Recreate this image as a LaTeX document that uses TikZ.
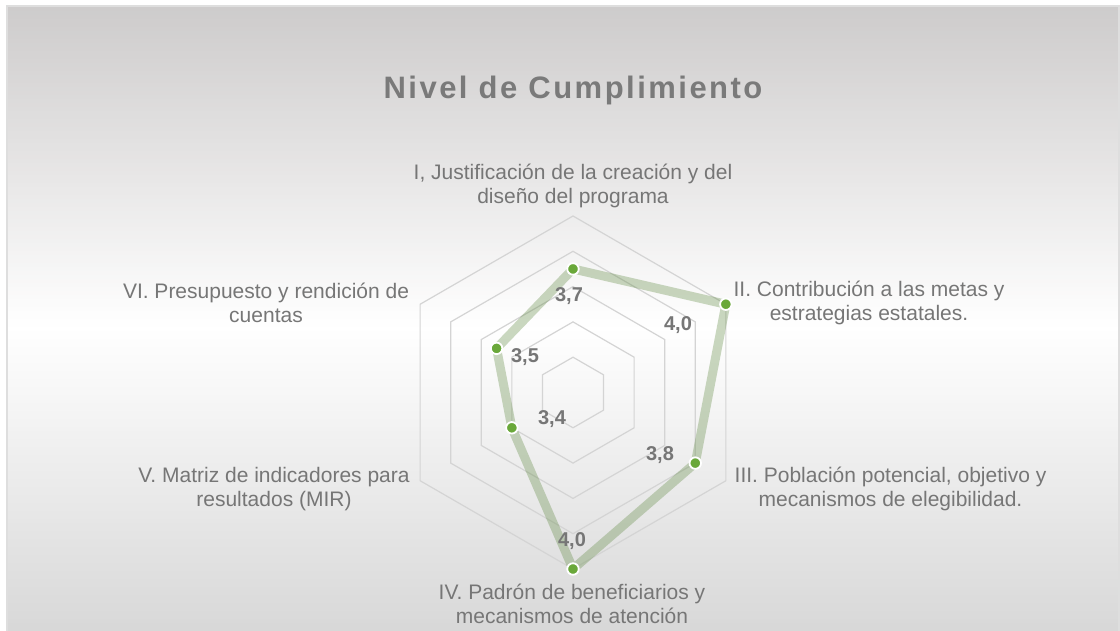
\documentclass[tikz,border=0pt]{standalone}
\usepackage{fontspec}
\setmainfont{Liberation Sans}
\newfontfamily\titlefont[LetterSpace=8]{Liberation Sans}
\usetikzlibrary{calc}
\definecolor{bgtop}{RGB}{205,203,203}
\definecolor{bgbot}{RGB}{216,216,216}
\definecolor{frame}{RGB}{222,222,222}
\definecolor{gridc}{RGB}{212,212,212}
\definecolor{txt}{RGB}{118,118,118}
\definecolor{ttl}{RGB}{122,122,122}
\definecolor{lab}{RGB}{118,118,118}
\definecolor{serie}{RGB}{100,140,70}
\definecolor{markc}{RGB}{106,168,58}
\begin{document}
\begin{tikzpicture}[x=1pt,y=1pt,
  axislabel/.style={font=\fontsize{21}{23.5}\selectfont, text=txt, align=center, inner sep=0pt},
  datalabel/.style={font=\fontsize{20}{22}\selectfont\bfseries, text=lab, inner sep=0pt, anchor=base},
  titlestyle/.style={font=\titlefont\fontsize{31}{36}\selectfont\bfseries, text=ttl, inner sep=0pt, anchor=base},
  ring/.style={draw=gridc, line width=1.2pt},
  serieline/.style={draw=serie, draw opacity=0.34, line width=9pt, line join=round},
  marker/.style={circle, fill=markc, draw=white, line width=1.8pt, minimum size=11.5pt, inner sep=0pt}]
\useasboundingbox (0,0) rectangle (1120,631);
\fill[white] (0,0) rectangle (1120,631);
% vertical gradient: grey at top, white near y=301, grey at bottom
\foreach \y in {0,4,...,624}{
  \pgfmathsetmacro{\t}{\y>301 ? min(100,(\y-301)/324*100) : (301-\y)/301*100}
  \ifdim\y pt>301pt
    \fill[bgtop!\t!white] (7,\y) rectangle (1119,{min(\y+4.6,625)});
  \else
    \fill[bgbot!\t!white] (7,\y) rectangle (1119,{\y+4.6});
  \fi
}
\draw[frame, line width=1.2pt] (7,0) -- (7,625) -- (1119,625) -- (1119,0);

\coordinate (C) at (573,238.5);
% grid rings
\foreach \k in {1,...,5}{
  \pgfmathsetmacro{\r}{35.3*\k}
  \draw[ring, shift={(C)}] (90:\r) -- (30:\r) -- (-30:\r) -- (-90:\r) -- (-150:\r) -- (150:\r) -- cycle;
}

% title
\node[titlestyle] (title) at (573,532.7) {Nivel de Cumplimiento};

% data points (centre = 3.0, outer ring = 4.0)
\coordinate (p1) at ($(C)+(90:123.55)$);
\coordinate (p2) at ($(C)+(30:176.5)$);
\coordinate (p3) at ($(C)+(-30:141.2)$);
\coordinate (p4) at ($(C)+(-90:176.5)$);
\coordinate (p5) at ($(C)+(-150:70.6)$);
\coordinate (p6) at ($(C)+(150:88.25)$);

\draw[serieline] (p1) -- (p2) -- (p3) -- (p4) -- (p5) -- (p6) -- cycle;
\foreach \i in {1,...,6}{
  \node[marker] (m\i) at (p\i) {};
}

% data labels
\node[datalabel] (d1) at (569,329) {3,7};
\node[datalabel] (d2) at (678,300.7) {4,0};
\node[datalabel] (d3) at (660,170.7) {3,8};
\node[datalabel] (d4) at (572,84) {4,0};
\node[datalabel] (d5) at (552,206.3) {3,4};
\node[datalabel] (d6) at (525,268.3) {3,5};

% axis labels
\node[axislabel] (a1) at (573,445) {I, Justificación de la creación y del\\diseño del programa};
\node[axislabel] (a2) at (869,328) {II. Contribución a las metas y\\estrategias estatales.};
\node[axislabel] (a3) at (890.5,142) {III. Población potencial, objetivo y\\mecanismos de elegibilidad.};
\node[axislabel] (a4) at (572,27) {IV. Padrón de beneficiarios y\\mecanismos de atención};
\node[axislabel] (a5) at (274,142) {V. Matriz de indicadores para\\resultados (MIR)};
\node[axislabel] (a6) at (266,328) {VI. Presupuesto y rendición de\\cuentas};
\end{tikzpicture}
\end{document}
